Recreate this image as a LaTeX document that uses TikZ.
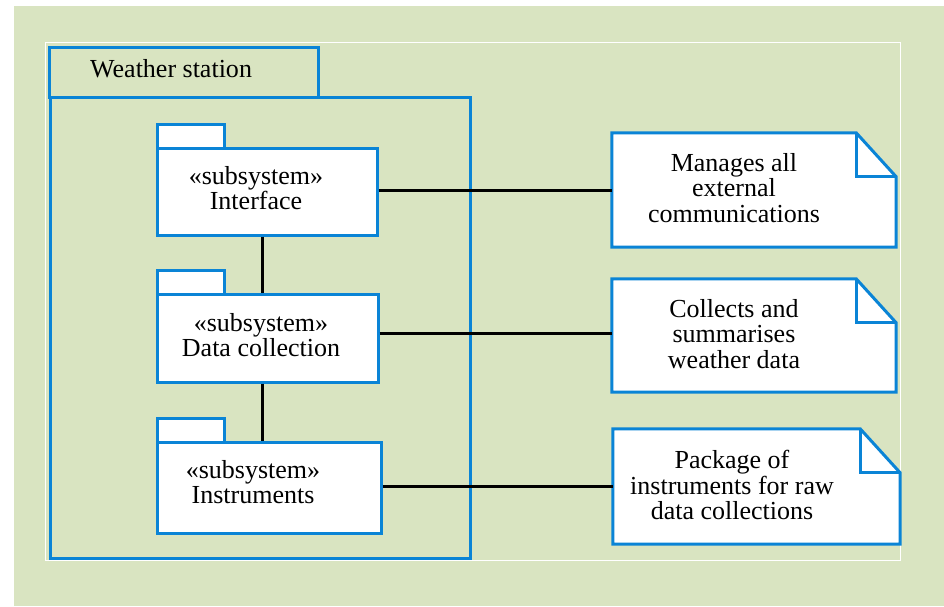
\documentclass[tikz,border=0pt]{standalone}
\usepackage{fontspec}
\setmainfont{Liberation Serif}
\definecolor{bgG}{HTML}{D9E4C1}
\definecolor{umlblue}{HTML}{0A84D6}
\tikzset{
  pkg/.style={draw=umlblue, line width=3pt, fill=white, rectangle, inner sep=0pt},
  bigpkg/.style={draw=umlblue, line width=3pt, fill=none, rectangle, inner sep=0pt},
  notebox/.style={draw=none, fill=none, rectangle, inner sep=0pt},
  notedraw/.style={draw=umlblue, line width=3pt, fill=white, line join=miter},
  lbl/.style={font=\fontsize{26}{25.5}\selectfont, align=center, inner sep=0pt},
  link/.style={draw=black, line width=3pt}
}
\begin{document}
\begin{tikzpicture}[x=1pt, y=-1pt]
\useasboundingbox (0,0) rectangle (944,606);
\fill[bgG] (14,6) rectangle (944,606);
\draw[white, line width=1pt] (45,42) rectangle (900,560);

% Weather station package
\node[bigpkg, minimum width=269pt, minimum height=50pt] (wstab) at (183.5,72) {};
\node[bigpkg, minimum width=420pt, minimum height=461pt] (wsbody) at (260,327.5) {};
\node[lbl, anchor=west] (wslbl) at (90,69) {Weather station};

% Interface
\node[pkg, minimum width=67pt, minimum height=24pt] (iftab) at (190.5,136) {};
\node[pkg, minimum width=220pt, minimum height=87pt] (ifbody) at (267,191.5) {};
\node[lbl] (iflbl) at (256,188) {«subsystem»\\Interface};

% Data collection
\node[pkg, minimum width=67pt, minimum height=24pt] (dctab) at (190.5,282) {};
\node[pkg, minimum width=221pt, minimum height=88pt] (dcbody) at (267.5,338) {};
\node[lbl] (dclbl) at (261,335) {«subsystem»\\Data collection};

% Instruments
\node[pkg, minimum width=67pt, minimum height=24pt] (intab) at (190.5,430) {};
\node[pkg, minimum width=224pt, minimum height=91pt] (inbody) at (269,487.5) {};
\node[lbl] (inlbl) at (253,482) {«subsystem»\\Instruments};

% Notes
\node[notebox, minimum width=284pt, minimum height=114pt] (n1) at (754,190) {};
\node[notebox, minimum width=284pt, minimum height=113pt] (n2) at (754,335.5) {};
\node[notebox, minimum width=287pt, minimum height=115pt] (n3) at (756.5,486.5) {};
\foreach \n in {n1,n2,n3}{
  \draw[notedraw] (\n.north west) -- ([xshift=-40pt]\n.north east) -- ([yshift=-44pt]\n.north east) -- (\n.south east) -- (\n.south west) -- cycle;
  \draw[umlblue, line width=3pt] ([xshift=-40pt]\n.north east) |- ([yshift=-44pt]\n.north east);
}
\node[lbl] (n1lbl) at (734,188) {Manages all\\external\\communications};
\node[lbl] (n2lbl) at (734,334) {Collects and\\summarises\\weather data};
\node[lbl] (n3lbl) at (732,485) {Package of\\instruments for raw\\data collections};

% connectors
\coordinate (vx) at (262,0);
\draw[link] (ifbody.south -| vx) -- (dcbody.north -| vx);
\draw[link] (dcbody.south -| vx) -- (inbody.north -| vx);
\draw[link] (ifbody.east |- n1.west) -- (n1.west);
\draw[link] (dcbody.east |- 0,333) -- (n2.west |- 0,333);
\draw[link] (inbody.east |- n3.west) -- (n3.west);
\end{tikzpicture}
\end{document}
